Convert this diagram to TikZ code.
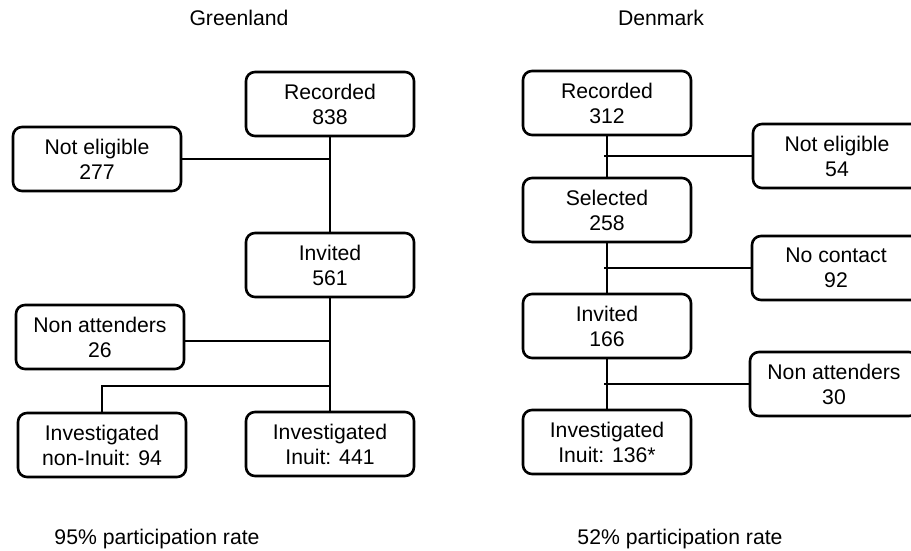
\documentclass[tikz,border=0pt]{standalone}
\usepackage{fontspec}
\setmainfont{Liberation Sans}
\usetikzlibrary{positioning}

\tikzset{
    box/.style={draw, line width=1.3pt, rounded corners=4.5pt, minimum width=84pt, minimum height=32pt, inner sep=1pt, align=center, font=\fontsize{10.6}{12.5}\selectfont},
    link/.style={line width=1.2pt},
    caption/.style={font=\fontsize{10.6}{12.5}\selectfont}
}

\begin{document}
\begin{tikzpicture}[x=0.5pt, y=-0.5pt]
        \clip (0,0) rectangle (911,551);
        % Greenland
        \node[caption] (titleG) at (239,18) {Greenland};
        \node[box] (recG) at (330,104) {Recorded\\838};
        \node[box] (notelG) at (97,159) {Not eligible\\277};
        \node[box] (invG) at (330,265) {Invited\\561};
        \node[box] (nonattG) at (100,337) {Non attenders\\26};
        \node[box] (nonInuitG) at (102,445) {Investigated\\non-Inuit: 94};
        \node[box] (inuitG) at (330,444) {Investigated\\Inuit: 441};
        \node[caption] (rateG) at (157,539) {95\% participation rate};
        \coordinate (forkG) at (330,386);
        \draw[link] (recG) -- (invG);
        \draw[link] (invG) -- (inuitG);
        \draw[link] (notelG) -- (notelG -| recG);
        \draw[link] ([yshift=-2pt]nonattG.east) -- ([yshift=-2pt]nonattG.east -| invG);
        \draw[link] (forkG) -| (nonInuitG);
        % Denmark
        \node[caption] (titleD) at (661,18) {Denmark};
        \node[box] (recD) at (607,103) {Recorded\\312};
        \node[box] (selD) at (607,210) {Selected\\258};
        \node[box] (invD) at (607,326) {Invited\\166};
        \node[box] (inuitD) at (607,442) {Investigated\\Inuit: 136*};
        \node[box] (notelD) at (837,156) {Not eligible\\54};
        \node[box] (nocontD) at (836,268) {No contact\\92};
        \node[box] (nonattD) at (834,384) {Non attenders\\30};
        \node[caption] (rateD) at (680,539) {52\% participation rate};
        \foreach \a/\b/\c in {recD/selD/notelD, selD/invD/nocontD, invD/inuitD/nonattD} {
            \draw[link] (\a) -- (\b);
            \draw[link] (\c) -- ([xshift=-1.5pt]\c -| \a);
        }
    \end{tikzpicture}
\end{document}
